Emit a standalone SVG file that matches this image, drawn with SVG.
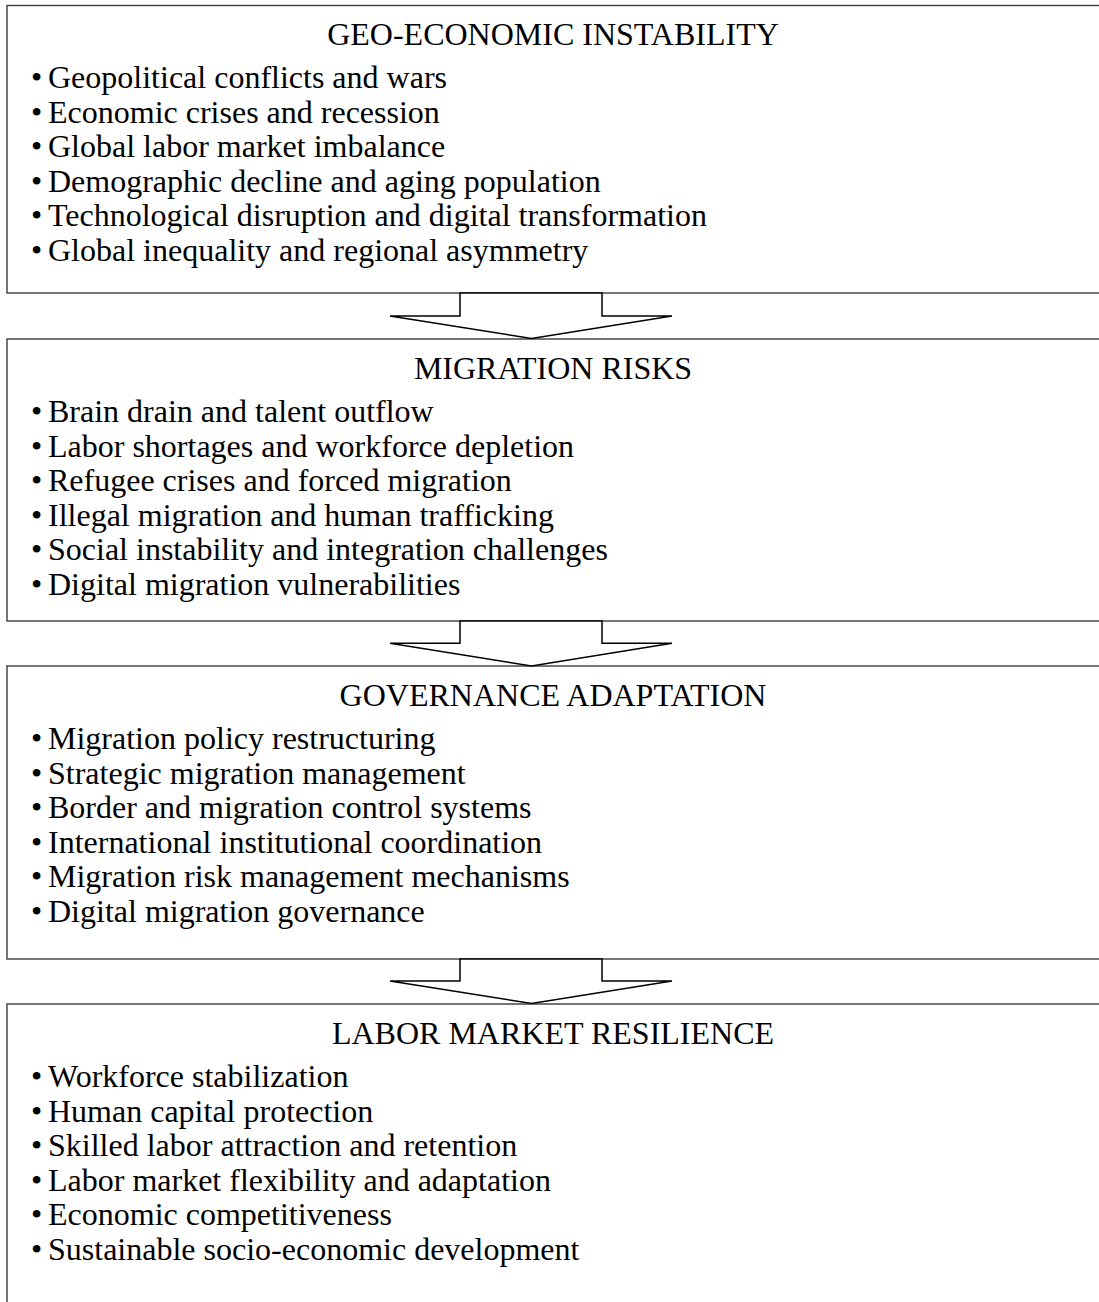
<svg xmlns="http://www.w3.org/2000/svg" width="1099" height="1302" viewBox="0 0 1099 1302">
<style>
.box{fill:#fff;stroke:#3c3c3c;stroke-width:1.4}
.arr{fill:#fff;stroke:#000;stroke-width:1.5;stroke-linejoin:miter}
text{font-family:"Liberation Serif","Times New Roman",serif;font-size:32px;fill:#000}
.t{text-anchor:middle}
</style>
<rect width="1099" height="1302" fill="#fff"/>
<g id="geo">
<rect class="box" x="7" y="5.5" width="1100" height="287.5"/>
<text class="t" x="553" y="45">GEO-ECONOMIC INSTABILITY</text>
<text y="88"><tspan x="31">•</tspan><tspan x="48">Geopolitical conflicts and wars</tspan></text>
<text y="122.6"><tspan x="31">•</tspan><tspan x="48">Economic crises and recession</tspan></text>
<text y="157.2"><tspan x="31">•</tspan><tspan x="48">Global labor market imbalance</tspan></text>
<text y="191.8"><tspan x="31">•</tspan><tspan x="48">Demographic decline and aging population</tspan></text>
<text y="226.4"><tspan x="31">•</tspan><tspan x="48">Technological disruption and digital transformation</tspan></text>
<text y="261"><tspan x="31">•</tspan><tspan x="48">Global inequality and regional asymmetry</tspan></text>
</g>
<g id="migration">
<rect class="box" x="7" y="339" width="1100" height="282"/>
<text class="t" x="553" y="379">MIGRATION RISKS</text>
<text y="422"><tspan x="31">•</tspan><tspan x="48">Brain drain and talent outflow</tspan></text>
<text y="456.6"><tspan x="31">•</tspan><tspan x="48">Labor shortages and workforce depletion</tspan></text>
<text y="491.2"><tspan x="31">•</tspan><tspan x="48">Refugee crises and forced migration</tspan></text>
<text y="525.8"><tspan x="31">•</tspan><tspan x="48">Illegal migration and human trafficking</tspan></text>
<text y="560.4"><tspan x="31">•</tspan><tspan x="48">Social instability and integration challenges</tspan></text>
<text y="595"><tspan x="31">•</tspan><tspan x="48">Digital migration vulnerabilities</tspan></text>
</g>
<g id="governance">
<rect class="box" x="7" y="666" width="1100" height="293"/>
<text class="t" x="553" y="706">GOVERNANCE ADAPTATION</text>
<text y="749"><tspan x="31">•</tspan><tspan x="48">Migration policy restructuring</tspan></text>
<text y="783.6"><tspan x="31">•</tspan><tspan x="48">Strategic migration management</tspan></text>
<text y="818.2"><tspan x="31">•</tspan><tspan x="48">Border and migration control systems</tspan></text>
<text y="852.8"><tspan x="31">•</tspan><tspan x="48">International institutional coordination</tspan></text>
<text y="887.4"><tspan x="31">•</tspan><tspan x="48">Migration risk management mechanisms</tspan></text>
<text y="922"><tspan x="31">•</tspan><tspan x="48">Digital migration governance</tspan></text>
</g>
<g id="resilience">
<rect class="box" x="7" y="1004" width="1100" height="320"/>
<text class="t" x="553" y="1044">LABOR MARKET RESILIENCE</text>
<text y="1087"><tspan x="31">•</tspan><tspan x="48">Workforce stabilization</tspan></text>
<text y="1121.6"><tspan x="31">•</tspan><tspan x="48">Human capital protection</tspan></text>
<text y="1156.2"><tspan x="31">•</tspan><tspan x="48">Skilled labor attraction and retention</tspan></text>
<text y="1190.8"><tspan x="31">•</tspan><tspan x="48">Labor market flexibility and adaptation</tspan></text>
<text y="1225.4"><tspan x="31">•</tspan><tspan x="48">Economic competitiveness</tspan></text>
<text y="1260"><tspan x="31">•</tspan><tspan x="48">Sustainable socio-economic development</tspan></text>
</g>
<g id="connectors">
<polygon class="arr" points="460,293 602,293 602,316 672,316 531.5,338.5 390,316 460,316"/>
<polygon class="arr" points="460,621 602,621 602,643.3 672,643.3 531.5,666 390,643.3 460,643.3"/>
<polygon class="arr" points="460,959 602,959 602,981 672,981 531.5,1003.5 390,981 460,981"/>
</g>
</svg>
